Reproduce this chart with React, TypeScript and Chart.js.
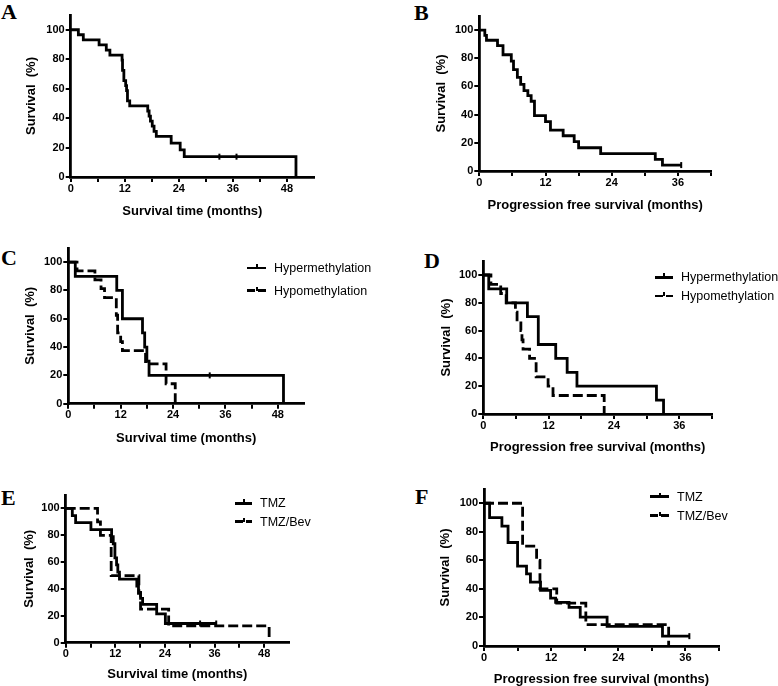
import React, { useEffect, useRef } from 'react';
import { Chart, registerables } from 'chart.js';
Chart.register(...registerables);

// ---------------- DATA ----------------
const yTickValues = [0, 20, 40, 60, 80, 100];
const xTicksOS = [0, 6, 12, 18, 24, 30, 36, 42, 48];
const xTicksPFS = [0, 6, 12, 18, 24, 30, 36, 42];

// A: overall survival
const A_time = [0, 1.7, 2.8, 6.3, 7.9, 8.7, 11.4, 11.5, 11.8, 12.2, 12.4, 12.6, 13.1, 17.1, 17.4, 17.7, 18.1, 18.5, 19.0, 22.3, 24.3, 25.2, 50.0];
const A_surv = [100, 96.6, 93.1, 89.7, 86.2, 82.8, 79.3, 72.4, 65.5, 62.1, 58.6, 51.7, 48.3, 44.8, 41.4, 37.9, 34.5, 31.0, 27.6, 23.0, 18.4, 13.8, 0];
const A_censTime = [33.0, 36.8];
const A_censSurv = [13.8, 13.8];

// B: progression free survival
const B_time = [0, 1.0, 1.3, 3.3, 4.3, 5.8, 6.2, 6.9, 7.5, 8.1, 8.8, 9.4, 10.0, 12.0, 12.9, 15.2, 17.2, 18.0, 22.0, 31.9, 33.2, 36.6];
const B_surv = [100, 96.3, 92.8, 89.0, 82.5, 78.0, 72.0, 66.5, 61.5, 57.0, 53.5, 49.5, 39.3, 35.0, 29.0, 25.0, 20.8, 16.5, 12.4, 8.3, 4.2, 4.2];
const B_censTime = [36.6];
const B_censSurv = [4.2];

// C: OS by methylation
const C_hyperTime = [0, 1.6, 11.1, 12.4, 17.0, 17.5, 18.0, 18.5, 49.3];
const C_hyperSurv = [100, 90, 80, 60, 50, 40, 30, 20, 0];
const C_hyperCensTime = [32.4];
const C_hyperCensSurv = [20];
const C_hypoTime = [0, 2.0, 6.1, 7.5, 8.3, 11.0, 11.3, 12.0, 12.4, 17.7, 22.4, 24.5];
const C_hypoSurv = [100, 93.8, 87.5, 81.3, 75.0, 62.5, 50.0, 43.8, 37.5, 28.1, 14.1, 0];

// D: PFS by methylation
const D_hyperTime = [0, 1.0, 4.3, 8.1, 10.1, 13.3, 15.4, 17.2, 31.8, 33.1];
const D_hyperSurv = [100, 90, 80, 70, 50, 40, 30, 20, 10, 0];
const D_hypoTime = [0, 1.4, 3.2, 4.2, 5.9, 6.2, 6.9, 7.1, 7.3, 8.5, 9.7, 11.9, 12.8, 22.2];
const D_hypoSurv = [100, 93.3, 86.7, 80.0, 73.3, 66.7, 60.0, 53.3, 46.7, 40.0, 26.7, 20.0, 13.3, 0];

// E: OS by treatment
const E_tmzTime = [0, 1.6, 2.4, 6.1, 11.1, 11.5, 11.9, 12.3, 12.6, 13.0, 17.2, 17.6, 18.1, 18.6, 22.0, 24.1, 36.4];
const E_tmzSurv = [100, 94.7, 89.5, 84.2, 78.9, 73.7, 63.2, 57.9, 52.6, 47.4, 42.1, 36.8, 33.0, 28.6, 21.4, 14.3, 14.3];
const E_tmzCensTime = [32.5, 36.4];
const E_tmzCensSurv = [14.3, 14.3];
const E_bevTime = [0, 7.7, 8.4, 11.0, 17.7, 18.1, 24.9, 49.2];
const E_bevSurv = [100, 90, 80, 50, 37.5, 25, 12.5, 0];

// F: PFS by treatment
const F_tmzTime = [0, 1.0, 3.2, 4.3, 6.0, 7.6, 8.3, 10.1, 11.9, 12.8, 15.2, 17.2, 22.0, 31.9, 36.7];
const F_tmzSurv = [100, 90.0, 84.0, 72.5, 56.0, 50.5, 44.8, 39.0, 33.5, 30.5, 27.0, 20.3, 13.8, 6.9, 6.9];
const F_tmzCensTime = [36.7];
const F_tmzCensSurv = [6.9];
const F_bevTime = [0, 6.9, 9.4, 10.0, 13.0, 18.2, 33.0];
const F_bevSurv = [100, 70, 60, 40, 30, 15, 0];

// ---------------- RENDERING ----------------
const SANS = 'Arial, "Liberation Sans", Helvetica, sans-serif';
const SERIF = '"Times New Roman", "Liberation Serif", serif';
const LW = 2.8;

type Series = { label: string; t: number[]; s: number[]; ct?: number[]; cs?: number[]; dashed?: boolean };
type Geo = { x0: number; y0: number; xEnd: number; yTop: number; yTitleX: number; xTitleY: number };

function KMPanel(props: { g: Geo; xMax: number; xTicks: number[]; xTitle: string; series: Series[] }) {
  const { g, xMax, xTicks, xTitle, series } = props;
  const ref = useRef<HTMLCanvasElement>(null);
  const half = 7.8;
  const left = Math.floor(g.yTitleX - half);
  const top = Math.floor(g.yTop - 4);
  const right = Math.ceil(g.xEnd + 4);
  const bottom = Math.ceil(g.xTitleY + half);
  const W = right - left;
  const H = bottom - top;
  const yW = g.x0 - left;
  const xH = bottom - g.y0;
  const padRight = right - g.xEnd;
  const padTop = g.yTop - top;

  useEffect(() => {
    const datasets: any[] = [];
    series.forEach((se) => {
      datasets.push({
        label: se.label,
        data: se.t.map((x, i) => ({ x, y: se.s[i] })),
        showLine: true,
        stepped: true,
        borderColor: '#000',
        borderWidth: LW,
        borderDash: se.dashed ? [10, 4] : [],
        pointRadius: 0,
        fill: false,
        clip: false,
      });
      if (se.ct && se.ct.length) {
        datasets.push({
          label: se.label + ' (censored)',
          data: se.ct.map((x, i) => ({ x, y: (se.cs as number[])[i] })),
          showLine: false,
          pointStyle: 'line',
          rotation: 90,
          pointRadius: 3,
          borderColor: '#000',
          borderWidth: 2,
          clip: false,
        });
      }
    });
    const tickFont = { family: SANS, size: 11, weight: 'bold' as const };
    const titleFont = { family: SANS, size: 13, weight: 'bold' as const };
    const chart = new Chart(ref.current as HTMLCanvasElement, {
      type: 'line',
      data: { datasets },
      options: {
        responsive: false,
        animation: false,
        devicePixelRatio: 1,
        layout: { padding: { top: padTop, right: padRight, left: 0, bottom: 0 } },
        plugins: { legend: { display: false }, tooltip: { enabled: false } },
        scales: {
          x: {
            type: 'linear',
            min: 0,
            max: xMax,
            afterBuildTicks: (sc: any) => {
              sc.ticks = xTicks.map((v) => ({ value: v }));
            },
            afterFit: (sc: any) => {
              sc.height = xH;
              sc.paddingLeft = 0;
              sc.paddingRight = 0;
            },
            ticks: {
              callback: (v: any) => (Number(v) % 12 === 0 ? String(v) : ''),
              font: tickFont,
              color: '#000',
              padding: 0,
              maxRotation: 0,
              autoSkip: false,
            },
            grid: { display: true, drawOnChartArea: false, drawTicks: true, tickLength: 5, color: '#000', lineWidth: 2 },
            border: { display: true, color: '#000', width: LW },
            title: { display: true, text: xTitle, font: titleFont, color: '#000', padding: 0 },
          },
          y: {
            type: 'linear',
            min: 0,
            max: 110,
            afterBuildTicks: (sc: any) => {
              sc.ticks = yTickValues.map((v) => ({ value: v }));
            },
            afterFit: (sc: any) => {
              sc.width = yW;
              sc.paddingTop = 0;
              sc.paddingBottom = 0;
            },
            ticks: { font: tickFont, color: '#000', padding: 1 },
            grid: { display: true, drawOnChartArea: false, drawTicks: true, tickLength: 5, color: '#000', lineWidth: 2 },
            border: { display: true, color: '#000', width: LW },
            title: { display: true, text: 'Survival  (%)', font: titleFont, color: '#000', padding: 0 },
          },
        },
      } as any,
    });
    return () => chart.destroy();
  }, []);

  return (
    <canvas
      ref={ref}
      width={W}
      height={H}
      style={{ position: 'absolute', left, top, width: W, height: H }}
    />
  );
}

function Letter(props: { text: string; x: number; y: number }) {
  return (
    <div
      style={{
        position: 'absolute',
        left: props.x,
        top: props.y,
        font: `bold 22px ${SERIF}`,
        lineHeight: '22px',
        color: '#000',
      }}
    >
      {props.text}
    </div>
  );
}

function LegendItem(props: { x: number; textX: number; y: number; dashed?: boolean; text: string }) {
  const { x, textX, y, dashed, text } = props;
  const lw = textX - x - 8;
  return (
    <>
      {dashed ? (
        <>
          <div style={{ position: 'absolute', left: x, top: y - 1.4, width: 8, height: LW, background: '#000' }} />
          <div style={{ position: 'absolute', left: x + 11, top: y - 1.4, width: lw - 11, height: LW, background: '#000' }} />
        </>
      ) : (
        <div style={{ position: 'absolute', left: x, top: y - 1.4, width: lw, height: LW, background: '#000' }} />
      )}
      <div style={{ position: 'absolute', left: x + lw / 2 - 1, top: y - 4, width: 2, height: 4, background: '#000' }} />
      <div
        style={{
          position: 'absolute',
          left: textX,
          top: y - 8,
          font: `12.5px ${SANS}`,
          lineHeight: '16px',
          color: '#000',
          whiteSpace: 'nowrap',
        }}
      >
        {text}
      </div>
    </>
  );
}

export default function App() {
  return (
    <div
      style={{
        position: 'absolute',
        left: 0,
        top: 0,
        width: 778,
        height: 686,
        overflow: 'hidden',
        background: '#fff',
      }}
    >
      <Letter text="A" x={1} y={1} />
      <Letter text="B" x={414} y={2} />
      <Letter text="C" x={1} y={247} />
      <Letter text="D" x={424} y={250} />
      <Letter text="E" x={1} y={487} />
      <Letter text="F" x={415} y={486} />

      <KMPanel
        g={{ x0: 70.7, y0: 177, xEnd: 315.5, yTop: 13.4, yTitleX: 32.4, xTitleY: 210.8 }}
        xMax={54}
        xTicks={xTicksOS}
        xTitle="Survival time (months)"
        series={[{ label: 'All', t: A_time, s: A_surv, ct: A_censTime, cs: A_censSurv }]}
      />
      <KMPanel
        g={{ x0: 479.3, y0: 171, xEnd: 712.6, yTop: 14, yTitleX: 442, xTitleY: 204.5 }}
        xMax={42}
        xTicks={xTicksPFS}
        xTitle="Progression free survival (months)"
        series={[{ label: 'All', t: B_time, s: B_surv, ct: B_censTime, cs: B_censSurv }]}
      />
      <KMPanel
        g={{ x0: 68.3, y0: 403.7, xEnd: 305.7, yTop: 246.4, yTitleX: 30.8, xTitleY: 437.8 }}
        xMax={54}
        xTicks={xTicksOS}
        xTitle="Survival time (months)"
        series={[
          { label: 'Hypermethylation', t: C_hyperTime, s: C_hyperSurv, ct: C_hyperCensTime, cs: C_hyperCensSurv },
          { label: 'Hypomethylation', t: C_hypoTime, s: C_hypoSurv, dashed: true },
        ]}
      />
      <KMPanel
        g={{ x0: 483.3, y0: 414, xEnd: 712, yTop: 261.1, yTitleX: 447.5, xTitleY: 447 }}
        xMax={42}
        xTicks={xTicksPFS}
        xTitle="Progression free survival (months)"
        series={[
          { label: 'Hypermethylation', t: D_hyperTime, s: D_hyperSurv },
          { label: 'Hypomethylation', t: D_hypoTime, s: D_hypoSurv, dashed: true },
        ]}
      />
      <KMPanel
        g={{ x0: 65.7, y0: 642.7, xEnd: 290.9, yTop: 493.8, yTitleX: 30.5, xTitleY: 674.2 }}
        xMax={54}
        xTicks={xTicksOS}
        xTitle="Survival time (months)"
        series={[
          { label: 'TMZ', t: E_tmzTime, s: E_tmzSurv, ct: E_tmzCensTime, cs: E_tmzCensSurv },
          { label: 'TMZ/Bev', t: E_bevTime, s: E_bevSurv, dashed: true },
        ]}
      />
      <KMPanel
        g={{ x0: 484, y0: 646, xEnd: 720.5, yTop: 487.9, yTitleX: 445.8, xTitleY: 679.2 }}
        xMax={42}
        xTicks={xTicksPFS}
        xTitle="Progression free survival (months)"
        series={[
          { label: 'TMZ', t: F_tmzTime, s: F_tmzSurv, ct: F_tmzCensTime, cs: F_tmzCensSurv },
          { label: 'TMZ/Bev', t: F_bevTime, s: F_bevSurv, dashed: true },
        ]}
      />

      <LegendItem x={247} textX={274} y={268} text="Hypermethylation" />
      <LegendItem x={247} textX={274} y={290.7} text="Hypomethylation" dashed />
      <LegendItem x={655} textX={681} y={277.3} text="Hypermethylation" />
      <LegendItem x={655} textX={681} y={296} text="Hypomethylation" dashed />
      <LegendItem x={235} textX={260} y={503.3} text="TMZ" />
      <LegendItem x={235} textX={260} y={521.7} text="TMZ/Bev" dashed />
      <LegendItem x={650} textX={677} y={496.7} text="TMZ" />
      <LegendItem x={650} textX={677} y={515.7} text="TMZ/Bev" dashed />
    </div>
  );
}
